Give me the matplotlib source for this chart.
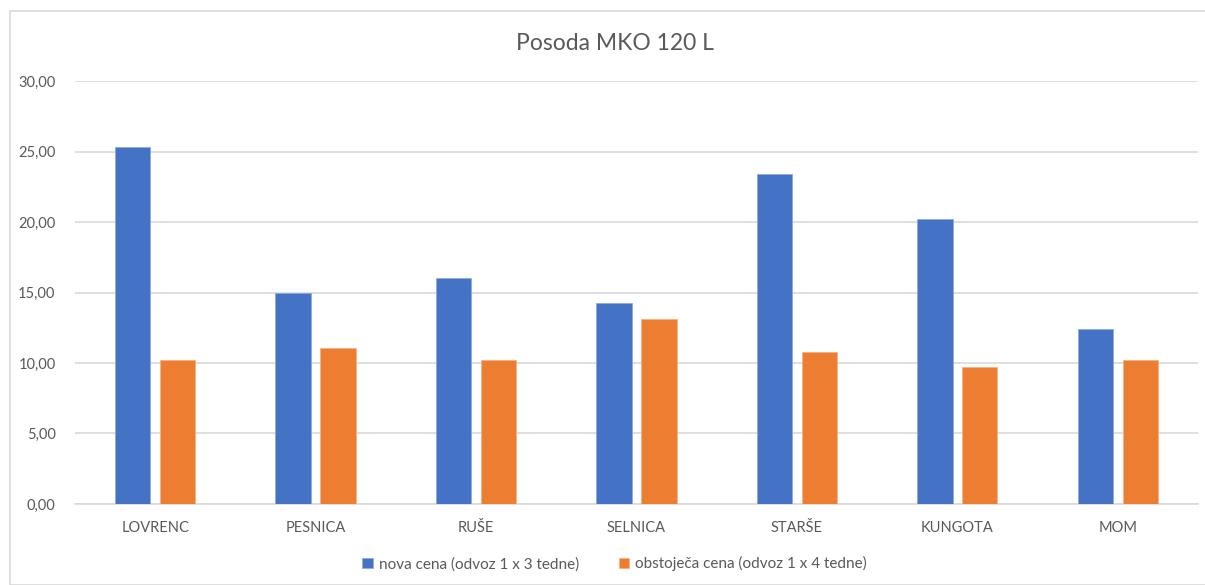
import numpy as np
import matplotlib.pyplot as plt
from matplotlib.patches import Rectangle

# data
kraji = ["LOVRENC", "PESNICA", "RUŠE", "SELNICA", "STARŠE", "KUNGOTA", "MOM"]
nova_cena = [25.35, 14.98, 16.03, 14.23, 23.43, 20.19, 12.39]
obstojeca_cena = [10.21, 11.06, 10.19, 13.10, 10.78, 9.72, 10.21]
y_ticks = [0, 5, 10, 15, 20, 25, 30]

plt.rcParams['font.family'] = ['Lato', 'DejaVu Sans']
blue = '#4472C4'
orange = '#ED7D31'
grey_txt = '#595959'

fig = plt.figure(figsize=(12.05, 5.85), dpi=100)
ax = fig.add_axes([0.0622, 0.1385, 0.9320, 0.7230])

x = np.arange(len(kraji))
w = 0.22
ax.bar(x - 0.14, nova_cena, w, color=blue, edgecolor='#8faadc', linewidth=0.6,
       label='nova cena (odvoz 1 x 3 tedne)', zorder=3)
ax.bar(x + 0.14, obstojeca_cena, w, color=orange, edgecolor='#f4b183', linewidth=0.6,
       label='obstoječa cena (odvoz 1 x 4 tedne)', zorder=3)

ax.set_xlim(-0.5, len(kraji) - 0.5)
ax.set_ylim(0, 30)
ax.set_yticks(y_ticks)
ax.set_yticklabels([f"{v:.2f}".replace('.', ',') for v in y_ticks], fontsize=10.5, color=grey_txt)
ax.set_xticks(x)
ax.set_xticklabels(kraji, fontsize=10.5, color=grey_txt)
ax.tick_params(axis='both', length=0)
ax.tick_params(axis='x', pad=12)
ax.tick_params(axis='y', pad=14)
ax.yaxis.grid(True, color='#d9d9d9', linewidth=1.2, zorder=0)
for s in ['top', 'right', 'left']:
    ax.spines[s].set_visible(False)
ax.spines['bottom'].set_color('#d9d9d9')
ax.spines['bottom'].set_linewidth(1.2)

fig.text(0.510, 0.925, "Posoda MKO 120 L", ha='center', va='center', fontsize=16.5, color=grey_txt)

fig.legend(loc='center', bbox_to_anchor=(0.51, 0.036), ncol=2, frameon=False,
           fontsize=11, labelcolor=grey_txt, handlelength=0.7, handleheight=0.7,
           handletextpad=0.4, columnspacing=2.6)

# chart border
fig.patches.append(Rectangle((10 / 1205, 0), 1.0, 1 - 11 / 585, transform=fig.transFigure,
                             fill=False, edgecolor='#d9d9d9', linewidth=1.2))

fig.savefig("out.png", dpi=100, facecolor="white")
